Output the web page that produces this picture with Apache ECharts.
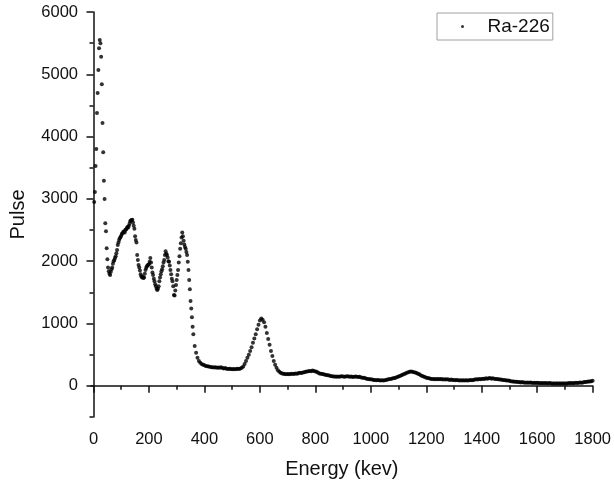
<!DOCTYPE html>
<html><head><meta charset="utf-8">
<script src="https://cdn.jsdelivr.net/npm/echarts@6/dist/echarts.min.js"></script>
<style>html,body{margin:0;padding:0;background:#fff}#c{width:614px;height:485px}</style>
</head><body><div id="c"></div>
<script>
const seriesName = 'Ra-226';
const xTitle = 'Energy (kev)';
const yTitle = 'Pulse';
// low-energy channels (keV start / step) and counts
const lowStart = 2.5, lowStep = 2.5;
const lowCounts = [
 2950,3110,3530,3800,4380,4700,5070,5420,5550,5500,
 5280,4840,4220,3750,3290,3000,2610,2480,2210,2030,
 1900,1840,1800,1780,1830,1870,1900,1960,2000,2020,
 2050,2080,2130,2180,2260,2300,2340,2370,2390,2410,
 2440,2450,2470,2480,2460,2500,2510,2530,2550,2540,
 2570,2600,2640,2655,2660,2665,2620,2570,2520,2400,
 2340,2300,2100,2020,1940,1900,1850,1790,1760,1740,
 1750,1730,1740,1800,1860,1890,1920,1930,1945,1950,
 1990,2050,1980,1900,1820,1780,1720,1680,1630,1600,
 1560,1540,1560,1600,1680,1740,1790,1840,1870,1920,
 1980,2020,2100,2160,2120,2100,2060,2000,1990,1930,
 1860,1790,1720,1680,1600,1460,1450,1530,1620,1700,
 1780,1860,1980,2080,2200,2290,2380,2460,2400,2330,
 2270,2230,2200,2150,2100,1990,1860,1700,1550,1360,
 1240,1100,950,830
];
const highStart = 365, highStep = 5;
const highCounts = [
 640,530,450,400,370,350,340,330,320,315,
 310,305,300,300,295,300,290,295,290,300,
 285,280,285,275,270,275,270,265,270,265,
 270,275,270,280,290,310,350,400,450,500,
 560,620,690,760,830,910,980,1050,1080,1060,
 1020,950,850,750,660,560,480,400,340,290,
 250,225,210,200,195,190,185,190,185,190,
 195,190,195,200,195,205,210,205,215,220,
 225,230,235,240,235,245,240,230,225,210,
 200,195,190,185,180,175,170,165,160,155,
 150,150,145,150,145,150,155,150,145,150,
 155,150,145,150,140,145,150,145,140,145,
 135,130,130,120,115,110,105,105,100,95,
 95,90,95,90,85,90,85,90,95,100,
 105,110,115,120,125,130,140,150,160,170,
 180,190,200,210,220,225,230,225,220,215,
 205,195,185,170,160,150,140,130,125,120,
 115,110,110,105,110,105,110,105,110,100,
 105,100,105,100,95,100,95,95,90,95,
 90,85,90,85,90,85,90,85,90,95,
 90,95,100,105,100,110,105,110,115,110,
 120,115,120,125,115,120,115,110,110,105,
 100,100,95,95,90,85,85,80,75,70,
 70,65,65,60,60,55,60,55,55,50,
 55,50,55,50,45,50,45,50,45,45,
 40,45,40,45,40,40,45,40,35,40,
 35,40,35,40,35,40,35,40,35,40,
 45,40,45,40,45,50,45,50,55,50,
 55,60,60,65,70,70,75,80
];
const xTicks = [0,200,400,600,800,1000,1200,1400,1600,1800];
const xMinorTicks = [100,300,500,700,900,1100,1300,1500,1700];
const yTicks = [0,1000,2000,3000,4000,5000,6000];
const yMinorTicks = [-500,500,1500,2500,3500,4500,5500];

const points = [];
lowCounts.forEach((v, i) => points.push([lowStart + i * lowStep, v]));
highCounts.forEach((v, i) => points.push([highStart + i * highStep, v]));

const FONT = 'Liberation Sans, Arial, sans-serif';
const INK = '#111';
const axisLineStyle = { color: INK, width: 1.5 };
const xMin = -9, xMax = 1800, yMin = -500, yMax = 6000;
const plain = v => String(v);

const chart = echarts.init(document.getElementById('c'));
chart.setOption({
  animation: false,
  backgroundColor: '#fff',
  grid: { left: 90, right: 20, top: 12, bottom: 68 },
  legend: {
    left: 437, top: 13,
    padding: [4, 3, 4, 24],
    itemWidth: 40, itemHeight: 3,
    icon: 'circle',
    borderColor: '#a0a0a0', borderWidth: 1,
    textStyle: { fontSize: 19, fontFamily: FONT, color: INK },
    data: [seriesName]
  },
  xAxis: [{
    type: 'value', min: xMin, max: xMax,
    name: xTitle, nameLocation: 'middle', nameGap: 42,
    nameTextStyle: { fontSize: 20, fontFamily: FONT, color: INK },
    axisLine: { lineStyle: axisLineStyle },
    axisTick: { customValues: xTicks, length: 7, lineStyle: axisLineStyle },
    axisLabel: { customValues: xTicks, formatter: plain, margin: 14, fontSize: 16.5, fontFamily: FONT, color: INK },
    splitLine: { show: false }
  }, {
    type: 'value', min: xMin, max: xMax, position: 'bottom',
    axisLine: { show: false },
    axisTick: { customValues: xMinorTicks, length: 4, lineStyle: axisLineStyle },
    axisLabel: { show: false },
    splitLine: { show: false }
  }],
  yAxis: [{
    type: 'value', min: yMin, max: yMax,
    name: yTitle, nameLocation: 'middle', nameGap: 63,
    nameTextStyle: { fontSize: 20, fontFamily: FONT, color: INK },
    axisLine: { lineStyle: axisLineStyle },
    axisTick: { customValues: yTicks, length: 7, lineStyle: axisLineStyle },
    axisLabel: { customValues: yTicks, formatter: plain, margin: 13, fontSize: 16.5, fontFamily: FONT, color: INK },
    splitLine: { show: false }
  }, {
    type: 'value', min: yMin, max: yMax, position: 'left',
    axisLine: { show: false },
    axisTick: { customValues: yMinorTicks, length: 4, lineStyle: axisLineStyle },
    axisLabel: { show: false },
    splitLine: { show: false }
  }],
  series: [{
    type: 'scatter', name: seriesName,
    xAxisIndex: 0, yAxisIndex: 0,
    data: points,
    symbol: 'circle', symbolSize: 4,
    itemStyle: { color: '#000' }
  }]
});
</script></body></html>
